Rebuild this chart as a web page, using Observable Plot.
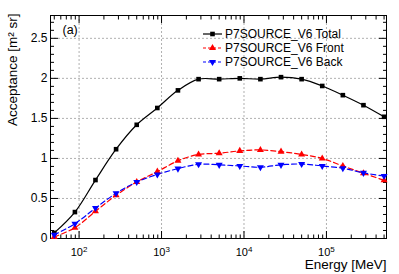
<!DOCTYPE html>
<html><head><meta charset="utf-8">
<script src="https://cdn.jsdelivr.net/npm/d3@7"></script>
<script src="https://cdn.jsdelivr.net/npm/@observablehq/plot@0.6"></script>
<style>body{margin:0;background:#fff}</style>
</head><body><div id="chart"></div>
<script>
const energy = [50, 89, 158, 281, 500, 889, 1581, 2812, 5000, 8891, 15811, 28117, 50000, 88914, 158114, 281171, 500000];
const total = [0.07, 0.33, 0.73, 1.115, 1.42, 1.63, 1.85, 1.99, 1.99, 2.0, 1.99, 2.015, 1.99, 1.905, 1.79, 1.665, 1.52];
const front = [0.02, 0.135, 0.34, 0.54, 0.705, 0.835, 0.97, 1.05, 1.065, 1.094, 1.106, 1.085, 1.05, 1.0, 0.906, 0.815, 0.727];
const back = [0.045, 0.185, 0.38, 0.565, 0.705, 0.80, 0.873, 0.927, 0.92, 0.906, 0.89, 0.92, 0.93, 0.906, 0.877, 0.82, 0.78];
const seriesNames = ["P7SOURCE_V6 Total", "P7SOURCE_V6 Front", "P7SOURCE_V6 Back"];
const seriesColors = ["#000000", "#ff0000", "#0000ff"];
const xMajor = [1e2, 1e3, 1e4, 1e5];
const yMajor = [0, 0.5, 1, 1.5, 2, 2.5];
const xDomain = [45, 5.35e5];
const yDomain = [0, 2.785];

const xMinor = [];
for (let k = 1; k <= 5; k++) for (let m = 2; m <= 9; m++) {
  const v = m * 10 ** k;
  if (v >= xDomain[0] && v <= xDomain[1]) xMinor.push(v);
}
const yMinor = d3.range(0, 28).map(i => i / 10).filter(v => Math.abs(v * 2 - Math.round(v * 2)) > 1e-9);

const rows = energy.map((e, i) => ({e, total: total[i], front: front[i], back: back[i]}));

const font = "'Liberation Sans', Arial, Helvetica, sans-serif";
const grid = {stroke: "#b0b0b0", strokeOpacity: 1, strokeDasharray: "2,2"};
const tk = {fill: "none", label: null};

const chart = Plot.plot({
  width: 399, height: 274,
  marginLeft: 50, marginRight: 13, marginTop: 15, marginBottom: 36,
  style: {fontFamily: font, fontSize: "12px", background: "#fff", color: "#000"},
  x: {type: "log", domain: xDomain, axis: null},
  y: {domain: yDomain, axis: null},
  marks: [
    Plot.gridX(xMajor, grid),
    Plot.gridY(yMajor.filter(v => v > 0), grid),
    // ticks (inward)
    Plot.axisX(xMajor, {anchor: "bottom", tickSize: -7, ...tk}),
    Plot.axisX(xMinor, {anchor: "bottom", tickSize: -3.5, ...tk}),
    Plot.axisX(xMajor, {anchor: "top", tickSize: -7, ...tk}),
    Plot.axisX(xMinor, {anchor: "top", tickSize: -3.5, ...tk}),
    Plot.axisY(yMajor, {anchor: "left", tickSize: -8, ...tk}),
    Plot.axisY(yMinor, {anchor: "left", tickSize: -4, ...tk}),
    Plot.axisY(yMajor, {anchor: "right", tickSize: -8, ...tk}),
    Plot.axisY(yMinor, {anchor: "right", tickSize: -4, ...tk}),
    // tick labels
    Plot.axisX(xMajor, {anchor: "bottom", tickSize: 0, tickPadding: 10, fontSize: 11,
      tickFormat: d => "10^" + Math.round(Math.log10(d)), label: null}),
    Plot.axisY(yMajor, {anchor: "left", tickSize: 0, tickPadding: 3, fontSize: 12,
      tickFormat: d => String(d), label: null}),
    Plot.frame({stroke: "#000", strokeWidth: 1}),
    // series
    Plot.line(rows, {x: "e", y: "total", stroke: seriesColors[0], strokeWidth: 1.2, curve: "catmull-rom"}),
    Plot.line(rows, {x: "e", y: "front", stroke: seriesColors[1], strokeWidth: 1.2, strokeDasharray: "5,3", curve: "catmull-rom"}),
    Plot.line(rows, {x: "e", y: "back", stroke: seriesColors[2], strokeWidth: 1.2, strokeDasharray: "5,3", curve: "catmull-rom"}),
    Plot.dot(rows, {x: "e", y: "total", symbol: "square", r: 2.6, fill: seriesColors[0], stroke: null}),
    Plot.dot(rows, {x: "e", y: "front", symbol: "triangle", r: 2.6, fill: seriesColors[1], stroke: null}),
    Plot.dot(rows, {x: "e", y: "back", symbol: "triangle", rotate: 180, r: 2.6, fill: seriesColors[2], stroke: null}),
    // texts
    Plot.text(["(a)"], {frameAnchor: "top-left", dx: 12, dy: 10, textAnchor: "start", fontSize: 12.5}),
    Plot.text(["Acceptance [m² sr]"], {frameAnchor: "top-left", rotate: -90, textAnchor: "end", lineAnchor: "middle", dx: -38, dy: -2, fontSize: 13.5}),
    Plot.text(["Energy [MeV]"], {frameAnchor: "bottom-right", textAnchor: "end", lineAnchor: "top", dx: 0, dy: 21, fontSize: 13.5})
  ]
});

// superscript exponents on x tick labels
d3.select(chart).selectAll('g[aria-label="x-axis tick label"] text').each(function() {
  const t = d3.select(this);
  const s = t.text();
  if (!s.includes("^")) return;
  const [base, exp] = s.split("^");
  t.text(null);
  t.append("tspan").text(base);
  t.append("tspan").attr("dy", "-0.55em").attr("font-size", "8px").text(exp);
});

// legend (inside the frame, top right)
const svg = d3.select(chart);
const lg = svg.append("g").attr("aria-label", "legend").attr("font-family", font)
  .attr("font-size", "12px").attr("text-anchor", "start");
const symbols = [d3.symbolSquare, d3.symbolTriangle, d3.symbolTriangle];
const symSize = Math.PI * 2.6 * 2.6;
seriesNames.forEach((name, i) => {
  const yy = 34 + i * 14;
  const g = lg.append("g").attr("transform", `translate(0,${yy})`);
  g.append("line").attr("x1", 203).attr("x2", 222).attr("y1", 0).attr("y2", 0)
    .attr("stroke", seriesColors[i]).attr("stroke-width", 1.2)
    .attr("stroke-dasharray", i === 0 ? null : "3,2");
  g.append("path").attr("d", d3.symbol(symbols[i], symSize)())
    .attr("transform", `translate(212.5,0)${i === 2 ? " rotate(180)" : ""}`)
    .attr("fill", seriesColors[i]);
  g.append("text").attr("x", 225).attr("y", 0).attr("dy", "0.35em").attr("fill", "#000").text(name);
});

document.getElementById("chart").append(chart);
</script>
</body></html>
